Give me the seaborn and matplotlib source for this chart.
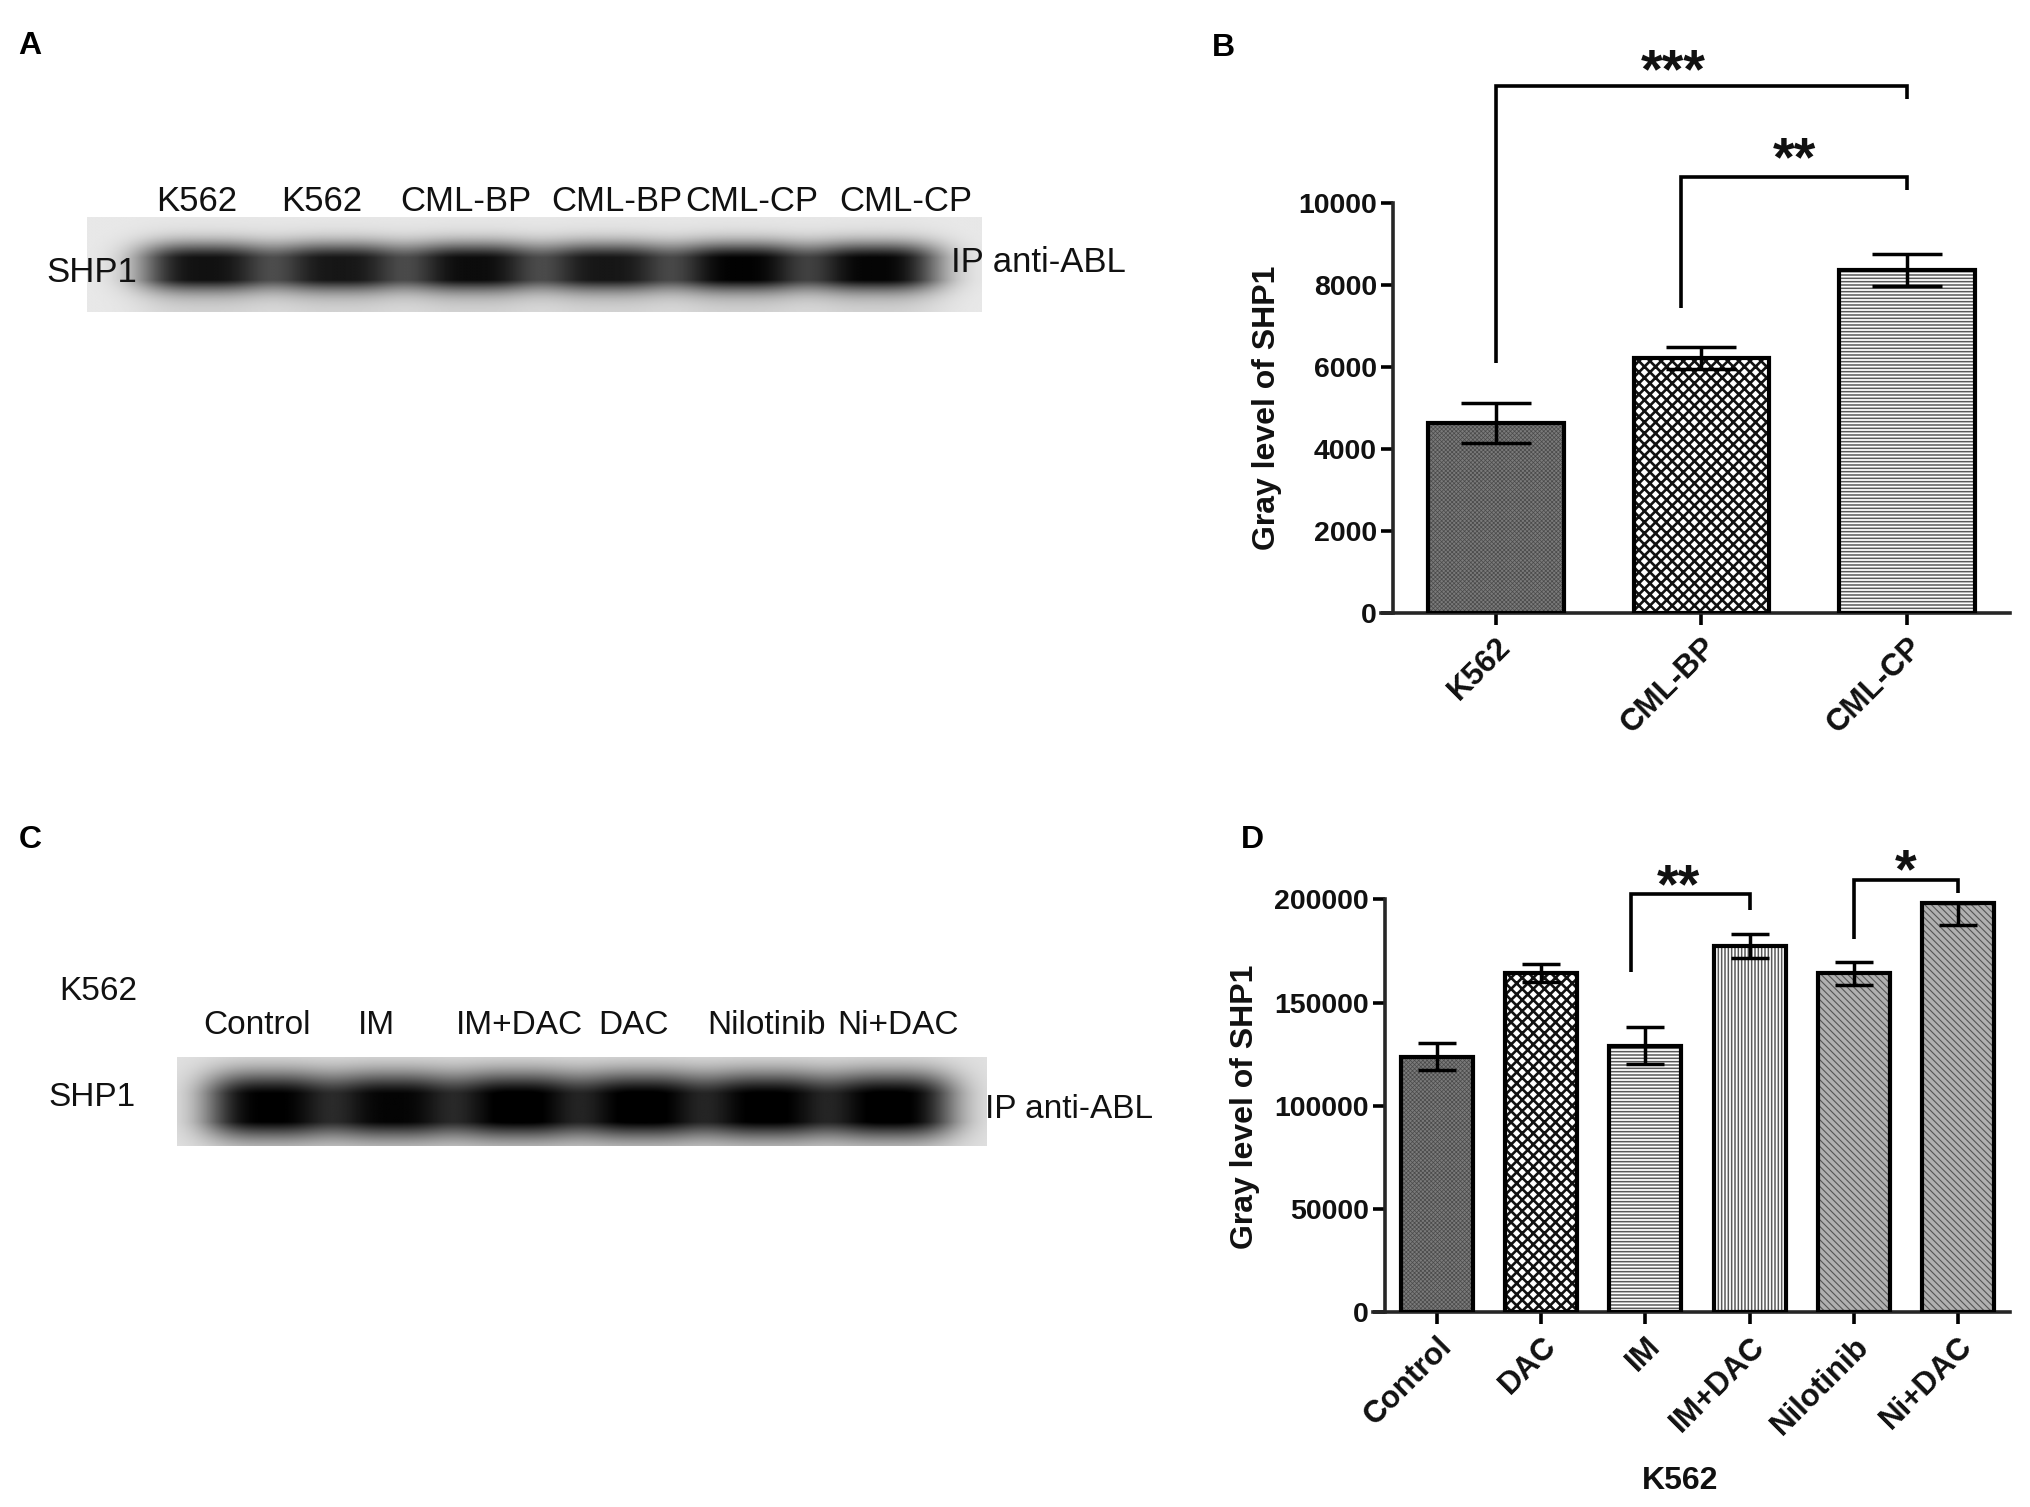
import numpy as np
import pandas as pd
import matplotlib
matplotlib.use("Agg")
import matplotlib.pyplot as plt
import seaborn as sns

# ------------------------------------------------------------------ data
blotA_lanes = ["K562", "K562", "CML-BP", "CML-BP", "CML-CP", "CML-CP"]
blotA_intensity = [0.84, 0.82, 0.86, 0.82, 0.90, 0.89]
blotC_lanes = ["Control", "IM", "IM+DAC", "DAC", "Nilotinib", "Ni+DAC"]
blotC_intensity = [0.88, 0.86, 0.90, 0.90, 0.89, 0.90]

groups_B = ["K562", "CML-BP", "CML-CP"]
mean_B = [4630, 6220, 8360]
sem_B = [495, 265, 395]
sig_B_pairs = [(0, 2), (1, 2)]
sig_B_labels = ["***", "**"]
sig_B_level = [12850, 10630]
sig_B_left_end = [6100, 7420]
sig_B_right_end = [12530, 10310]
sig_B_text_y = [13420, 11270]

groups_D = ["Control", "DAC", "IM", "IM+DAC", "Nilotinib", "Ni+DAC"]
mean_D = [123800, 164200, 129100, 177400, 164200, 198400]
err_D_low = [6600, 4300, 9000, 6000, 5600, 10800]
err_D_high = [6600, 4300, 9000, 6000, 5600, 0]
sig_D_pairs = [(2, 3), (4, 5)]
sig_D_labels = ["**", "*"]
sig_D_level = [202400, 209400]
sig_D_left_end = [165000, 180600]
sig_D_right_end = [194800, 202900]
sig_D_text_y = [210500, 218000]

# ------------------------------------------------------------------ style
sns.set_theme(style="ticks")
plt.rcParams["font.family"] = ["Liberation Sans", "DejaVu Sans"]
plt.rcParams["hatch.linewidth"] = 1.2

W, H = 2031, 1507
fig = plt.figure(figsize=(W / 100, H / 100), dpi=100)
fig.patch.set_facecolor("white")


def fx(x):
    return x / W


def fy(y):
    return 1 - y / H


def add_axes_px(x0, y0, x1, y1):
    return fig.add_axes([fx(x0), fy(y1), (x1 - x0) / W, (y1 - y0) / H])


# ------------------------------------------------------------------ blots
def draw_blot(ax, intensities, xlim, half_w, yc, half_h, tail_len, bg):
    xs = np.linspace(xlim[0], xlim[1], 1000)
    ys = np.linspace(0, 1, 160)
    X, Y = np.meshgrid(xs, ys)
    dark = np.zeros_like(X)
    for i, amp in enumerate(intensities):
        fxp = np.exp(-np.abs((X - i) / half_w) ** 3)
        core = np.exp(-np.abs((Y - yc) / half_h) ** 2.5)
        below = np.where(Y > yc, np.exp(-(Y - yc) / tail_len), 0.0) * 0.40
        above = np.where(Y < yc, np.exp(-(yc - Y) / 0.20), 0.0) * 0.12
        dark += amp * fxp * np.clip(core + below + above, 0, 1)
    img = np.clip(bg - dark, 0, 1)
    ax.imshow(img, cmap="gray", vmin=0, vmax=1, aspect="auto",
              extent=(xlim[0], xlim[1], 1, 0), interpolation="bilinear")
    ax.set_xlim(*xlim)
    ax.set_ylim(1, 0)
    ax.set_axis_off()


txtA = dict(fontsize=25, color="#111111")
txtC = dict(fontsize=24, color="#111111")

# Panel A
axA = add_axes_px(87, 217, 982, 312)
xlimA = ((87 - 205) / 134, (982 - 205) / 134)
draw_blot(axA, blotA_intensity, xlimA, 0.50, 0.52, 0.24, 0.35, 0.91)
nudgeA = [-0.06, -0.13, -0.05, 0.07, 0.08, 0.23]
for i, lab in enumerate(blotA_lanes):
    axA.text(i + nudgeA[i], 1.16, lab, transform=axA.get_xaxis_transform(),
             ha="center", va="center", **txtA)
fig.text(fx(92), fy(272), "SHP1", ha="center", va="center", **txtA)
fig.text(fx(951), fy(263), "IP anti-ABL", ha="left", va="center", **txtA)

# Panel C
axC = add_axes_px(177, 1057, 987, 1146)
xlimC = ((177 - 269) / 124.4, (987 - 269) / 124.4)
draw_blot(axC, blotC_intensity, xlimC, 0.52, 0.53, 0.36, 0.30, 0.88)
nudgeC = [-0.10, -0.14, 0.01, -0.07, 0.0, 0.06]
for i, lab in enumerate(blotC_lanes):
    axC.text(i + nudgeC[i], 1.35, lab, transform=axC.get_xaxis_transform(),
             ha="center", va="center", **txtC)
fig.text(fx(98), fy(991), "K562", ha="center", va="center", **txtC)
fig.text(fx(92), fy(1098), "SHP1", ha="center", va="center", **txtC)
fig.text(fx(985), fy(1109), "IP anti-ABL", ha="left", va="center", **txtC)

# panel letters
for lab, (x, y) in zip("ABCD", [(30, 46), (1223, 48), (30, 840), (1252, 840)]):
    fig.text(fx(x), fy(y), lab, ha="center", va="center", fontsize=23,
             fontweight="bold", color="black")

# ------------------------------------------------------------------ bars
patterns = {
    "dark": dict(face="#7a7a7a", hatch="xxxxxxxx", hcolor="#4a4a4a", hlw=0.5),
    "checker": dict(face="#ffffff", hatch="xxx", hcolor="#111111", hlw=1.9),
    "hlines": dict(face="#ffffff", hatch="-----", hcolor="#5a5a5a", hlw=1.1),
    "vlines": dict(face="#ffffff", hatch="|||||", hcolor="#5a5a5a", hlw=1.1),
    "diag": dict(face="#b0b0b0", hatch="\\\\\\\\\\", hcolor="#555555", hlw=0.8),
}

SPINE_LW = 2.6
EDGE_LW = 3.0
ERR_LW = 2.5
TICK_LEN = 8.6
STAR_SIZE = 40


def bar_panel(ax, groups, means, elow, ehigh, pats, width, capsize, ylim,
              yticks, ytop, sig_pairs, sig_labels, sig_level, sig_left,
              sig_right, sig_text, left_dx, text_dx, star_lift):
    df = pd.DataFrame({"group": groups, "value": means})
    sns.barplot(data=df, x="group", y="value", order=groups, width=width,
                errorbar=None, color="white", ax=ax, zorder=2)
    for p, key in zip(ax.patches, pats):
        st = patterns[key]
        p.set_facecolor(st["face"])
        p.set_edgecolor(st["hcolor"])
        p.set_linewidth(0)
        p.set_hatch(st["hatch"])
        if hasattr(p, "set_hatch_linewidth"):
            p.set_hatch_linewidth(st["hlw"])
    sns.barplot(data=df, x="group", y="value", order=groups, width=width,
                errorbar=None, fill=False, color="black", linewidth=EDGE_LW,
                ax=ax, zorder=3)
    x = np.arange(len(groups))
    ax.errorbar(x, means, yerr=[elow, ehigh], fmt="none", ecolor="black",
                elinewidth=ERR_LW, capsize=capsize, capthick=ERR_LW, zorder=5)
    # significance brackets
    for k, ((a, b), lab, lvl, le, re_, ty) in enumerate(zip(
            sig_pairs, sig_labels, sig_level, sig_left, sig_right, sig_text)):
        xa = a + left_dx[k]
        ax.plot([xa, xa, b, b], [le, lvl, lvl, re_], color="black", lw=2.6,
                solid_joinstyle="miter", solid_capstyle="butt", zorder=6,
                clip_on=False)
        ax.text((xa + b) / 2 + text_dx[k], ty - star_lift, lab, ha="center",
                va="baseline", fontsize=STAR_SIZE, fontweight="bold",
                color="#111111")
    n = len(groups)
    ax.set_xlim(-0.5, n - 0.5)
    ax.set_ylim(*ylim)
    ax.set_yticks(yticks)
    ax.set_yticklabels([str(v) for v in yticks])
    sns.despine(ax=ax)
    ax.spines["left"].set_bounds(0, ytop)
    ax.spines["left"].set_linewidth(SPINE_LW)
    ax.spines["bottom"].set_linewidth(SPINE_LW)
    ax.tick_params(axis="both", direction="out", length=TICK_LEN,
                   width=SPINE_LW, color="black", labelcolor="#111111")
    ax.tick_params(axis="y", labelsize=20.5, pad=3)
    ax.tick_params(axis="x", labelsize=22.5, pad=5)
    for t in ax.get_yticklabels():
        t.set_fontweight("bold")
    ax.set_xticks(x)
    ax.set_xticklabels(groups, rotation=45, ha="right",
                       rotation_mode="anchor", fontweight="bold")
    ax.set_xlabel("")
    ax.set_ylabel("Gray level of SHP1", fontsize=23, fontweight="bold",
                  color="#111111")
    ax.patch.set_alpha(0)


# Panel B
pxB = 0.041
axB = add_axes_px(1393, 612.7 - 14000 * pxB, 2010, 612.7)
bar_panel(axB, groups_B, mean_B, sem_B, sem_B, ["dark", "checker", "hlines"],
          0.66, 25, (0, 14000), list(range(0, 10001, 2000)), 10000,
          sig_B_pairs, sig_B_labels, sig_B_level, sig_B_left_end,
          sig_B_right_end, sig_B_text_y, [0.0, -0.10], [-0.135, 0.0],
          25 / pxB)
axB.spines["bottom"].set_bounds(-0.5 - 12 / 205.7, 2.5)
axB.yaxis.set_label_coords(-0.18, 0.357)

# Panel D
pxD = 103.25 / 50000
axD = add_axes_px(1385, 1312.3 - 225000 * pxD, 2010, 1312.3)
bar_panel(axD, groups_D, mean_D, err_D_low, err_D_high,
          ["dark", "checker", "hlines", "vlines", "diag", "diag"],
          0.69, 13.4, (0, 225000), list(range(0, 200001, 50000)), 200000,
          sig_D_pairs, sig_D_labels, sig_D_level, sig_D_left_end,
          sig_D_right_end, sig_D_text_y, [-0.14, 0.0], [-0.11, 0.0],
          25 / pxD)
axD.spines["bottom"].set_bounds(-0.5 - 12 / 104.2, 5.5)
axD.yaxis.set_label_coords(-0.20, 0.442)
axD.set_xlabel("K562", fontsize=23, fontweight="bold", color="#111111")
axD.xaxis.set_label_coords(0.472, -0.33)

fig.savefig("out.png", dpi=100, facecolor="white")
